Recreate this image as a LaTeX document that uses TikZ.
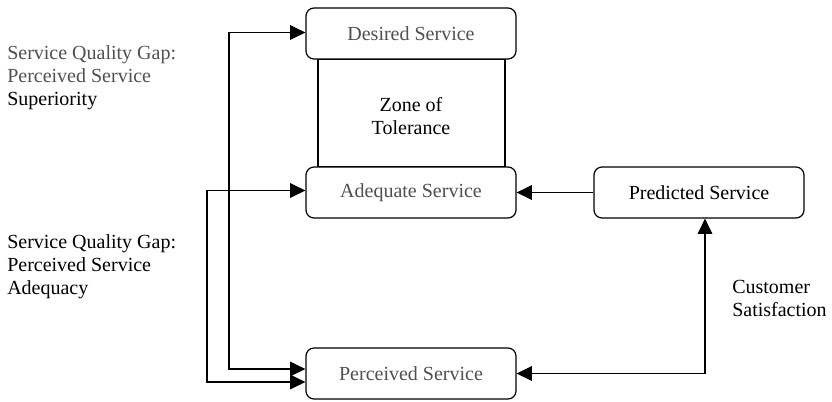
\documentclass[tikz,border=0pt]{standalone}
\usepackage{fontspec}
\setmainfont{Liberation Serif}
\usetikzlibrary{arrows.meta,calc}
\definecolor{txtgray}{RGB}{80,80,80}
\begin{document}
\begin{tikzpicture}[x=0.75pt,y=-0.75pt,
  box/.style={draw,line width=0.9pt,rounded corners=6pt,minimum width=210*0.75pt,minimum height=51*0.75pt,inner sep=0pt,font=\fontsize{15pt}{17pt}\selectfont},
  lbl/.style={align=left,anchor=north west,inner sep=0pt,font=\fontsize{15pt}{17.5pt}\selectfont},
  tip/.style={Triangle[length=11.5pt,width=11pt]},
  conn/.style={line width=0.9pt,-{Triangle[length=11.5pt,width=11pt]}},
  conn2/.style={line width=0.9pt,{Triangle[length=11.5pt,width=11pt]}-{Triangle[length=11.5pt,width=11pt]}}]
\useasboundingbox (0,0) rectangle (832,401);
% zone of tolerance
\draw[line width=0.9pt,fill=white] (318,59) rectangle (505,167);
\node[box,fill=white,text=txtgray] (desired) at (411,33.5) {Desired Service};
\node[box,fill=white,text=txtgray] (adequate) at (411,192.5) {Adequate Service};
\node[box,fill=white,text=txtgray] (perceived) at (411,373.5) {Perceived Service};
\node[box,fill=white] (predicted) at (699,192.5) {Predicted Service};
\node[align=center,inner sep=0pt,font=\fontsize{15pt}{17.5pt}\selectfont] (zone) at (411,116) {Zone of\\Tolerance};
% texts
\node[lbl] (t1) at (7,45) {\textcolor{txtgray}{Service Quality Gap:}\\\textcolor{txtgray}{Perceived Service}\\Superiority};
\node[lbl] (t2) at (7,234) {Service Quality Gap:\\Perceived Service\\Adequacy};
\node[lbl] (t3) at (732,280) {Customer\\Satisfaction};
% connector points
\coordinate (c1) at (229,0);
\coordinate (c2) at (207,0);
\coordinate (c3) at (705,0);
\coordinate (dw) at ($(desired.west)+(0,-1)$);
\coordinate (aw) at ($(adequate.west)+(0,-2)$);
\coordinate (pw1) at ($(perceived.west)+(0,-4.5)$);
\coordinate (pw2) at ($(perceived.west)+(0,8.5)$);
% connectors
\draw[conn2] (dw) -- (dw -| c1) |- (pw1);
\draw[conn2] (aw) -- (aw -| c2) |- (pw2);
\draw[conn] (predicted.west) -- (adequate.east);
\draw[conn2] (perceived.east) -| (c3 |- predicted.south);
\end{tikzpicture}
\end{document}
